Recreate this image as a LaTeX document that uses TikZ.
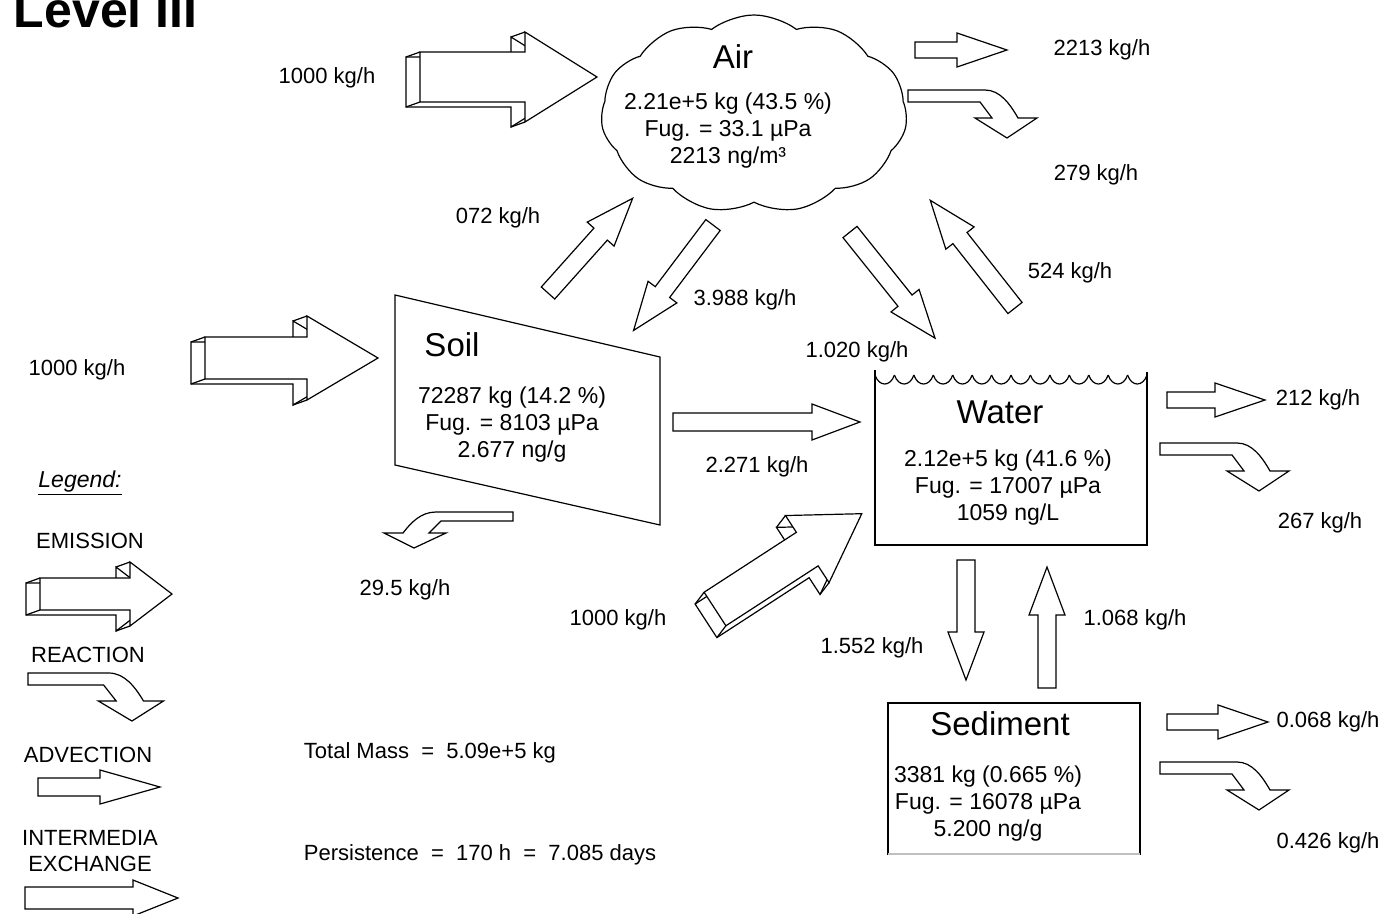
\documentclass[tikz,border=0pt]{standalone}
\usepackage{fontspec}
\setmainfont{Liberation Sans}
\usetikzlibrary{shapes.symbols}

\tikzset{
  arr len/.store in=\arrLen,
  arr body/.store in=\arrBody,
  arr head/.store in=\arrHead,
  arr tip/.store in=\arrTip,
  arr len=100, arr body=9, arr head=18, arr tip=50,
  outline/.style={draw=black,fill=white,line width=1.2pt,line join=miter},
  lbl/.style={font=\fontsize{22}{26}\selectfont},
  cname/.style={font=\fontsize{33}{38}\selectfont},
  cdata/.style={font=\fontsize{23}{27}\selectfont,align=center},
  flow/.pic={
    \pgfmathsetmacro\hb{\arrLen-\arrTip}
    \draw[outline] (0,-\arrBody) -- (\hb,-\arrBody) -- (\hb,-\arrHead) -- (\arrLen,0)
      -- (\hb,\arrHead) -- (\hb,\arrBody) -- (0,\arrBody) -- cycle;
  },
  emit/.pic={
    \pgfmathsetmacro\hb{\arrLen-\arrTip}
    % back face, pushed left and down
    \draw[outline] (-14,{5-\arrBody}) -- ({\hb-14},{5-\arrBody}) -- ({\hb-14},{5-\arrHead})
      -- ({\arrLen-14},5) -- ({\hb-14},{5+\arrHead}) -- ({\hb-14},{5+\arrBody})
      -- (-14,{5+\arrBody}) -- cycle;
    \draw[outline] (0,-\arrBody) -- (\hb,-\arrBody) -- (\hb,-\arrHead) -- (\arrLen,0)
      -- (\hb,\arrHead) -- (\hb,\arrBody) -- (0,\arrBody) -- cycle;
    \draw[outline] (-14,{5-\arrBody}) -- (0,-\arrBody) (-14,{5+\arrBody}) -- (0,\arrBody)
      ({\hb-14},{5-\arrHead}) -- (\hb,-\arrHead) ({\hb-14},{5+\arrHead}) -- (\hb,\arrHead);
  },
  react/.pic={
    \draw[outline] (0,0) -- (77,0) .. controls (92,0) and (102,14) .. (110,28) -- (129,28)
      -- (99,48) -- (67,28) -- (84,28) -- (72,12) -- (0,12) -- cycle;
  },
}

\begin{document}
\begin{tikzpicture}[x=1pt,y=-1pt,line width=1.2pt]
  \fill[white] (0,0) rectangle (1388,913);
  \useasboundingbox (0,0) rectangle (1388,913);

  \node[anchor=base west,font=\fontsize{50}{56}\selectfont\bfseries] (title) at (10,27) {Level III};

  % compartments
  \node[cloud,draw,cloud puffs=11,cloud puff arc=75,aspect=1.5,
    minimum width=306pt,minimum height=198pt] (air) at (754,114) {};
  \node[cname] (airname) at (733,57) {Air};
  \node[cdata] (airdata) at (728,131) {2.21e+5 kg (43.5 \%)\\Fug. = 33.1 µPa\\2213 ng/m³};

  \draw (395,295) coordinate (soil nw) -- (660,357) coordinate (soil ne)
    -- (660,525) coordinate (soil se) -- (395,465) coordinate (soil sw) -- cycle;
  \node[cname] (soilname) at (452,345) {Soil};
  \node[cdata] (soildata) at (512,425) {72287 kg (14.2 \%)\\Fug. = 8103 µPa\\2.677 ng/g};

  \draw (875,370) -- (875,545) -- (1147,545) -- (1147,372);
  \foreach \i in {0,...,13}
    \draw ({875+19.43*\i},375) .. controls ({879+19.43*\i},387) and ({890.4+19.43*\i},387) .. ({894.43+19.43*\i},375);
  \node[cname] (watername) at (1000,412) {Water};
  \node[cdata] (waterdata) at (1008,488) {2.12e+5 kg (41.6 \%)\\Fug. = 17007 µPa\\1059 ng/L};

  \draw (888,855) -- (888,703) -- (1140,703) -- (1140,855);
  \draw[black!25] (888,854) -- (1140,854);
  \node[cname] (sedname) at (1000,724) {Sediment};
  \node[cdata] (seddata) at (988,804) {3381 kg (0.665 \%)\\Fug. = 16078 µPa\\5.200 ng/g};

  % intermedia exchange
  \foreach \x/\y/\r/\l in {673/422/0/187, 713/225/-127/132, 548/293/48.2/127,
      850/232/-51.3/136, 1015/308/128.2/137, 966/560/-90/120, 1047/688/90/121}
    \pic[rotate=\r,arr len=\l,arr tip=48] at (\x,\y) {flow};

  % advection
  \foreach \x/\y/\l in {915/50/92, 1167/400/98, 1167/722/101}
    \pic[arr len=\l,arr body=8,arr head=17,arr tip=50] at (\x,\y) {flow};

  % emission
  \pic[arr len=177,arr body=25,arr head=45,arr tip=72] at (420,77) {emit};
  \pic[arr len=173,arr body=21,arr head=42,arr tip=71] at (205,358) {emit};
  \pic[rotate=33,arr len=175,arr body=20,arr head=40,arr tip=65] at (715,609) {emit};

  % reaction
  \pic at (908,90) {react};
  \pic at (1160,443) {react};
  \pic at (1160,762) {react};
  \pic[xscale=-1,yscale=0.75] at (513,512) {react};

  \foreach \x/\y/\t [count=\i] in {327/78/1000, 1102/50/2213, 1096/175/279, 498/218/072,
      745/300/3.988, 1070/273/524, 857/352/1.020, 77/370/1000, 757/467/2.271,
      1318/400/212, 1320/523/267, 405/590/29.5, 618/620/1000, 872/648/1.552,
      1135/620/1.068, 1328/722/0.068, 1328/843/0.426}
    \node[lbl] (rate\i) at (\x,\y) {\t\ kg/h};

  % legend
  \node[lbl,font=\fontsize{23}{27}\selectfont\itshape] (legend) at (80,483) {\underline{Legend:}};
  \node[lbl] (lgemit) at (90,541) {EMISSION};
  \pic[arr len=132,arr body=16,arr head=32,arr tip=42] at (40,594) {emit};
  \node[lbl] (lgreact) at (88,655) {REACTION};
  \pic[xscale=1.05] at (28,673) {react};
  \node[lbl] (lgadv) at (88,755) {ADVECTION};
  \pic[arr len=122,arr body=9,arr head=17,arr tip=60] at (38,787) {flow};
  \node[lbl,align=center] (lgexch) at (90,851) {INTERMEDIA\\EXCHANGE};
  \pic[arr len=153,arr body=11,arr head=18,arr tip=45] at (25,898) {flow};

  \node[lbl,anchor=west] (total) at (300,753) {Total Mass \ = \ 5.09e+5 kg};
  \node[lbl,anchor=west] (persist) at (300,855) {Persistence \ = \ 170 h \ = \ 7.085 days};
\end{tikzpicture}
\end{document}
